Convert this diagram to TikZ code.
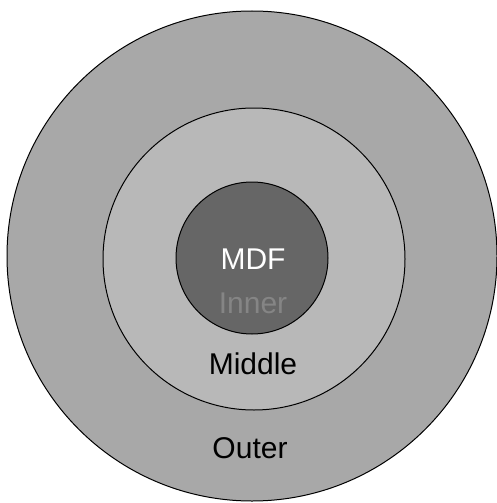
\documentclass[tikz,border=0pt]{standalone}
\usepackage{fontspec}
\setmainfont{Liberation Sans}
\definecolor{outerfill}{gray}{0.66}
\definecolor{middlefill}{gray}{0.72}
\definecolor{innerfill}{gray}{0.40}
\definecolor{innertext}{gray}{0.52}

\begin{document}
\begin{tikzpicture}[x=1pt,y=1pt,
    ring/.style={draw=black,line width=1pt},
    lbl/.style={font=\fontsize{30}{33}\selectfont,inner sep=0pt}]
    \useasboundingbox (0,0) rectangle (496,-503);
    \fill[white] (0,0) rectangle (496,-503);

    % Rings
    \draw[ring,fill=outerfill] (252,-256) circle (245);
    \draw[ring,fill=middlefill] (254,-259) circle (151);
    \draw[ring,fill=innerfill] (252,-258) circle (76);

    % Labels
    \node[lbl,white] (mdf) at (253,-259) {MDF};
    \node[lbl,innertext] (inner) at (253,-303) {Inner};
    \node[lbl] (middle) at (253,-364) {Middle};
    \node[lbl] (outer) at (250,-448) {Outer};
\end{tikzpicture}
\end{document}
